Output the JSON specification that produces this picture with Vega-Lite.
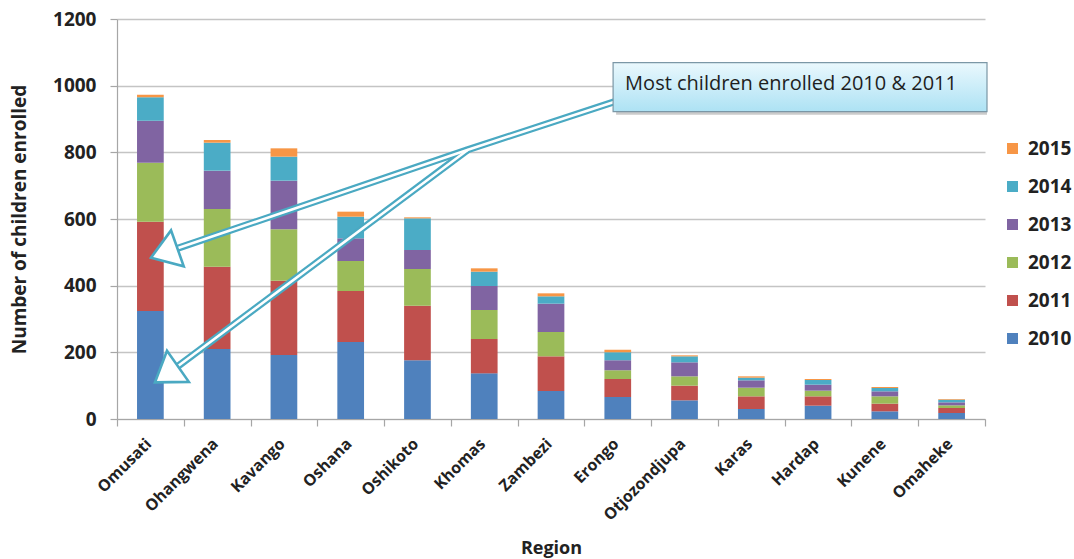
{
  "$schema": "https://vega.github.io/schema/vega-lite/v6.json",
  "width": 868,
  "height": 400,
  "autosize": {"type": "none"},
  "padding": {"left": 117, "top": 19, "right": 89, "bottom": 140},
  "background": "white",
  "config": {
    "view": {"stroke": null},
    "font": "Open Sans",
    "text": {"font": "Open Sans"}
  },
  "datasets": {
    "enrolment": [
      {"region": "Omusati", "year": "2010", "n": 324},
      {"region": "Omusati", "year": "2011", "n": 268},
      {"region": "Omusati", "year": "2012", "n": 177},
      {"region": "Omusati", "year": "2013", "n": 126},
      {"region": "Omusati", "year": "2014", "n": 70},
      {"region": "Omusati", "year": "2015", "n": 8},
      {"region": "Ohangwena", "year": "2010", "n": 210},
      {"region": "Ohangwena", "year": "2011", "n": 247},
      {"region": "Ohangwena", "year": "2012", "n": 173},
      {"region": "Ohangwena", "year": "2013", "n": 115},
      {"region": "Ohangwena", "year": "2014", "n": 84},
      {"region": "Ohangwena", "year": "2015", "n": 8},
      {"region": "Kavango", "year": "2010", "n": 192},
      {"region": "Kavango", "year": "2011", "n": 223},
      {"region": "Kavango", "year": "2012", "n": 154},
      {"region": "Kavango", "year": "2013", "n": 146},
      {"region": "Kavango", "year": "2014", "n": 72},
      {"region": "Kavango", "year": "2015", "n": 25},
      {"region": "Oshana", "year": "2010", "n": 231},
      {"region": "Oshana", "year": "2011", "n": 153},
      {"region": "Oshana", "year": "2012", "n": 90},
      {"region": "Oshana", "year": "2013", "n": 68},
      {"region": "Oshana", "year": "2014", "n": 65},
      {"region": "Oshana", "year": "2015", "n": 15},
      {"region": "Oshikoto", "year": "2010", "n": 176},
      {"region": "Oshikoto", "year": "2011", "n": 164},
      {"region": "Oshikoto", "year": "2012", "n": 110},
      {"region": "Oshikoto", "year": "2013", "n": 57},
      {"region": "Oshikoto", "year": "2014", "n": 95},
      {"region": "Oshikoto", "year": "2015", "n": 3},
      {"region": "Khomas", "year": "2010", "n": 137},
      {"region": "Khomas", "year": "2011", "n": 103},
      {"region": "Khomas", "year": "2012", "n": 87},
      {"region": "Khomas", "year": "2013", "n": 72},
      {"region": "Khomas", "year": "2014", "n": 43},
      {"region": "Khomas", "year": "2015", "n": 10},
      {"region": "Zambezi", "year": "2010", "n": 84},
      {"region": "Zambezi", "year": "2011", "n": 104},
      {"region": "Zambezi", "year": "2012", "n": 73},
      {"region": "Zambezi", "year": "2013", "n": 85},
      {"region": "Zambezi", "year": "2014", "n": 22},
      {"region": "Zambezi", "year": "2015", "n": 9},
      {"region": "Erongo", "year": "2010", "n": 66},
      {"region": "Erongo", "year": "2011", "n": 54},
      {"region": "Erongo", "year": "2012", "n": 26},
      {"region": "Erongo", "year": "2013", "n": 30},
      {"region": "Erongo", "year": "2014", "n": 24},
      {"region": "Erongo", "year": "2015", "n": 8},
      {"region": "Otjozondjupa", "year": "2010", "n": 56},
      {"region": "Otjozondjupa", "year": "2011", "n": 44},
      {"region": "Otjozondjupa", "year": "2012", "n": 28},
      {"region": "Otjozondjupa", "year": "2013", "n": 42},
      {"region": "Otjozondjupa", "year": "2014", "n": 18},
      {"region": "Otjozondjupa", "year": "2015", "n": 3},
      {"region": "Karas", "year": "2010", "n": 30},
      {"region": "Karas", "year": "2011", "n": 38},
      {"region": "Karas", "year": "2012", "n": 26},
      {"region": "Karas", "year": "2013", "n": 22},
      {"region": "Karas", "year": "2014", "n": 8},
      {"region": "Karas", "year": "2015", "n": 4},
      {"region": "Hardap", "year": "2010", "n": 40},
      {"region": "Hardap", "year": "2011", "n": 28},
      {"region": "Hardap", "year": "2012", "n": 17},
      {"region": "Hardap", "year": "2013", "n": 18},
      {"region": "Hardap", "year": "2014", "n": 14},
      {"region": "Hardap", "year": "2015", "n": 3},
      {"region": "Kunene", "year": "2010", "n": 23},
      {"region": "Kunene", "year": "2011", "n": 23},
      {"region": "Kunene", "year": "2012", "n": 22},
      {"region": "Kunene", "year": "2013", "n": 15},
      {"region": "Kunene", "year": "2014", "n": 10},
      {"region": "Kunene", "year": "2015", "n": 3},
      {"region": "Omaheke", "year": "2010", "n": 18},
      {"region": "Omaheke", "year": "2011", "n": 15},
      {"region": "Omaheke", "year": "2012", "n": 8},
      {"region": "Omaheke", "year": "2013", "n": 9},
      {"region": "Omaheke", "year": "2014", "n": 8},
      {"region": "Omaheke", "year": "2015", "n": 2}
    ],
    "arrowShafts": [
      {"seg": "upper", "ord": 1, "pos": 0.905, "v": 512},
      {"seg": "upper", "ord": 2, "pos": 5.257, "v": 808},
      {"seg": "upper", "ord": 3, "pos": 7.5, "v": 955},
      {"seg": "lower", "ord": 1, "pos": 0.91, "v": 158},
      {"seg": "lower", "ord": 2, "pos": 5.257, "v": 808}
    ],
    "arrowHeads": [
      {"pos": 0.509, "v": 484, "ang": 340.5},
      {"pos": 0.569, "v": 110, "ang": 325}
    ],
    "callout": [
      {"x0": 7.43, "x1": 13.03, "v0": 922, "v1": 1069, "tx": 7.61, "tv": 988, "label": "Most children enrolled 2010 & 2011"}
    ]
  },
  "layer": [
    {
      "data": {"name": "enrolment"},
      "mark": {"type": "bar", "width": {"band": 0.4}},
      "encoding": {
        "x": {
          "field": "region",
          "type": "nominal",
          "sort": ["Omusati", "Ohangwena", "Kavango", "Oshana", "Oshikoto", "Khomas", "Zambezi", "Erongo", "Otjozondjupa", "Karas", "Hardap", "Kunene", "Omaheke"],
          "scale": {"paddingInner": 0, "paddingOuter": 0},
          "title": "Region",
          "axis": {
            "labelAngle": -45,
            "labelBaseline": "middle",
            "labelFontSize": 16,
            "labelFontWeight": "bold",
            "labelColor": "#222222",
            "labelPadding": 15,
            "labelOffset": -2,
            "tickBand": "extent",
            "tickSize": 7,
            "tickColor": "#a6a6a6",
            "tickWidth": 1.2,
            "domainColor": "#a6a6a6",
            "domainWidth": 1.2,
            "titleFontSize": 18,
            "titleFontWeight": "bold",
            "titleColor": "#222222",
            "titlePadding": 16
          }
        },
        "y": {
          "field": "n",
          "type": "quantitative",
          "stack": "zero",
          "scale": {"domain": [0, 1200], "nice": false},
          "title": "Number of children enrolled",
          "axis": {
            "values": [0, 200, 400, 600, 800, 1000, 1200],
            "format": "d",
            "grid": true,
            "gridColor": "#c4c4c4",
            "gridWidth": 1.5,
            "labelFontSize": 19,
            "labelFontWeight": "bold",
            "labelColor": "#222222",
            "labelPadding": 14,
            "tickSize": 7,
            "tickColor": "#a6a6a6",
            "tickWidth": 1.2,
            "domainColor": "#a6a6a6",
            "domainWidth": 1.2,
            "titleFontSize": 19,
            "titleFontWeight": "bold",
            "titleColor": "#222222",
            "titlePadding": 23
          }
        },
        "color": {
          "field": "year",
          "type": "nominal",
          "scale": {
            "domain": ["2015", "2014", "2013", "2012", "2011", "2010"],
            "range": ["#f79646", "#4bacc6", "#8064a2", "#9bbb59", "#c0504d", "#4f81bd"]
          },
          "legend": {
            "orient": "none",
            "legendX": 886,
            "legendY": 120,
            "title": null,
            "padding": 0,
            "symbolType": "square",
            "symbolSize": 121,
            "symbolStrokeWidth": 0,
            "labelFontSize": 19,
            "labelFontWeight": "bold",
            "labelColor": "#222222",
            "labelOffset": 6,
            "rowPadding": 18
          }
        },
        "order": {"field": "year", "type": "ordinal", "sort": "ascending"}
      }
    },
    {
      "data": {"name": "arrowShafts"},
      "mark": {"type": "line", "color": "#4aa9c2", "strokeWidth": 7, "strokeCap": "butt", "strokeJoin": "miter"},
      "encoding": {
        "x": {"field": "pos", "type": "quantitative", "scale": {"domain": [0, 13], "nice": false, "zero": false}, "axis": null},
        "y": {"field": "v", "type": "quantitative", "scale": {"domain": [0, 1200], "nice": false}, "axis": null},
        "detail": {"field": "seg"},
        "order": {"field": "ord", "type": "quantitative"}
      }
    },
    {
      "data": {"name": "arrowShafts"},
      "mark": {"type": "line", "color": "#ffffff", "strokeWidth": 2.6, "strokeCap": "butt", "strokeJoin": "miter"},
      "encoding": {
        "x": {"field": "pos", "type": "quantitative", "scale": {"domain": [0, 13], "nice": false, "zero": false}, "axis": null},
        "y": {"field": "v", "type": "quantitative", "scale": {"domain": [0, 1200], "nice": false}, "axis": null},
        "detail": {"field": "seg"},
        "order": {"field": "ord", "type": "quantitative"}
      }
    },
    {
      "data": {"name": "arrowHeads"},
      "mark": {
        "type": "point",
        "shape": "M 0 0 L 1 -0.68 L 1 0.68 Z",
        "size": 3136,
        "filled": true,
        "fill": "#ffffff",
        "fillOpacity": 1,
        "stroke": "#4aa9c2",
        "strokeWidth": 2.6,
        "strokeJoin": "miter",
        "opacity": 1
      },
      "encoding": {
        "x": {"field": "pos", "type": "quantitative", "scale": {"domain": [0, 13], "nice": false, "zero": false}, "axis": null},
        "y": {"field": "v", "type": "quantitative", "scale": {"domain": [0, 1200], "nice": false}, "axis": null},
        "angle": {"field": "ang", "type": "quantitative", "scale": null}
      }
    },
    {
      "data": {"name": "callout"},
      "mark": {"type": "rect", "fill": "#8c8c8c", "opacity": 0.45},
      "encoding": {
        "x": {"field": "x0", "type": "quantitative", "scale": {"domain": [0, 13], "nice": false, "zero": false}, "axis": null},
        "x2": {"field": "x1"},
        "y": {"field": "v0", "type": "quantitative", "scale": {"domain": [0, 1200], "nice": false}, "axis": null},
        "y2": {"field": "v1"},
        "xOffset": {"value": 3},
        "yOffset": {"value": 3}
      }
    },
    {
      "data": {"name": "callout"},
      "mark": {
        "type": "rect",
        "fill": {
          "gradient": "linear",
          "x1": 0, "y1": 0, "x2": 0, "y2": 1,
          "stops": [
            {"offset": 0, "color": "#eaf8fd"},
            {"offset": 1, "color": "#ade2f4"}
          ]
        },
        "stroke": "#7b97a6",
        "strokeWidth": 1.2
      },
      "encoding": {
        "x": {"field": "x0", "type": "quantitative", "scale": {"domain": [0, 13], "nice": false, "zero": false}, "axis": null},
        "x2": {"field": "x1"},
        "y": {"field": "v0", "type": "quantitative", "scale": {"domain": [0, 1200], "nice": false}, "axis": null},
        "y2": {"field": "v1"}
      }
    },
    {
      "data": {"name": "callout"},
      "mark": {"type": "text", "align": "left", "baseline": "alphabetic", "fontSize": 20, "font": "Open Sans", "color": "#1e1e1e"},
      "encoding": {
        "x": {"field": "tx", "type": "quantitative", "scale": {"domain": [0, 13], "nice": false, "zero": false}, "axis": null},
        "y": {"field": "tv", "type": "quantitative", "scale": {"domain": [0, 1200], "nice": false}, "axis": null},
        "text": {"field": "label"}
      }
    }
  ],
  "resolve": {"scale": {"x": "independent", "y": "independent"}}
}
